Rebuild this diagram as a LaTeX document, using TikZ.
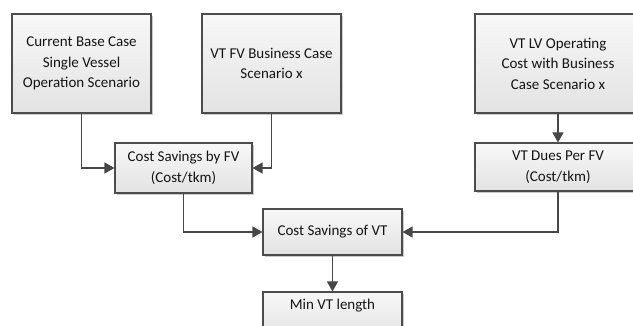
\documentclass[tikz,border=0pt]{standalone}
\usepackage{fontspec}
\setmainfont{Carlito}
\usetikzlibrary{arrows.meta,shadows}
\begin{document}
\begin{tikzpicture}[x=1pt,y=-1pt,
  box/.style={draw=black!70, line width=1.1pt, top color=white!97!black, bottom color=white!89!black,
    drop shadow={shadow xshift=1.5pt, shadow yshift=-1.5pt, fill=black!35, opacity=0.6},
    align=center, inner sep=2pt, font=\fontsize{15}{20.5}\selectfont, text=black!92},
  conn/.style={draw=black!72, line width=1.3pt, -{Triangle[length=10pt,width=11pt]}}]
\useasboundingbox (0,0) rectangle (633,325);
\node[box, minimum width=139pt, minimum height=99pt] (b1) at (81.5,63.5) {Current Base Case\\Single Vessel\\Operation Scenario};
\node[box, minimum width=139pt, minimum height=99pt] (b2) at (271.5,63.5) {VT FV Business Case\\Scenario x};
\node[box, minimum width=166pt, minimum height=99pt] (b3) at (558,63.5) {VT LV Operating\\Cost with Business\\Case Scenario x};
\node[box, minimum width=137pt, minimum height=50pt] (csfv) at (183.5,168) {Cost Savings by FV\\(Cost/tkm)};
\node[box, minimum width=166pt, minimum height=48pt] (vtd) at (558,167) {VT Dues Per FV\\(Cost/tkm)};
\node[box, minimum width=139pt, minimum height=46pt] (csvt) at (332.5,232) {Cost Savings of VT};
\node[box, minimum width=139pt, minimum height=46pt] (mvt) at (332.5,315) {\smash{\raisebox{6pt}{Min VT length}}};
\draw[conn] (b1.south) |- (csfv.west);
\draw[conn] (b2.south) |- (csfv.east);
\draw[conn] (b3.south) -- (vtd.north);
\draw[conn] (csfv.south) |- (csvt.west);
\draw[conn] (vtd.south) |- (csvt.east);
\draw[conn] (csvt.south) -- (mvt.north);
\end{tikzpicture}
\end{document}
